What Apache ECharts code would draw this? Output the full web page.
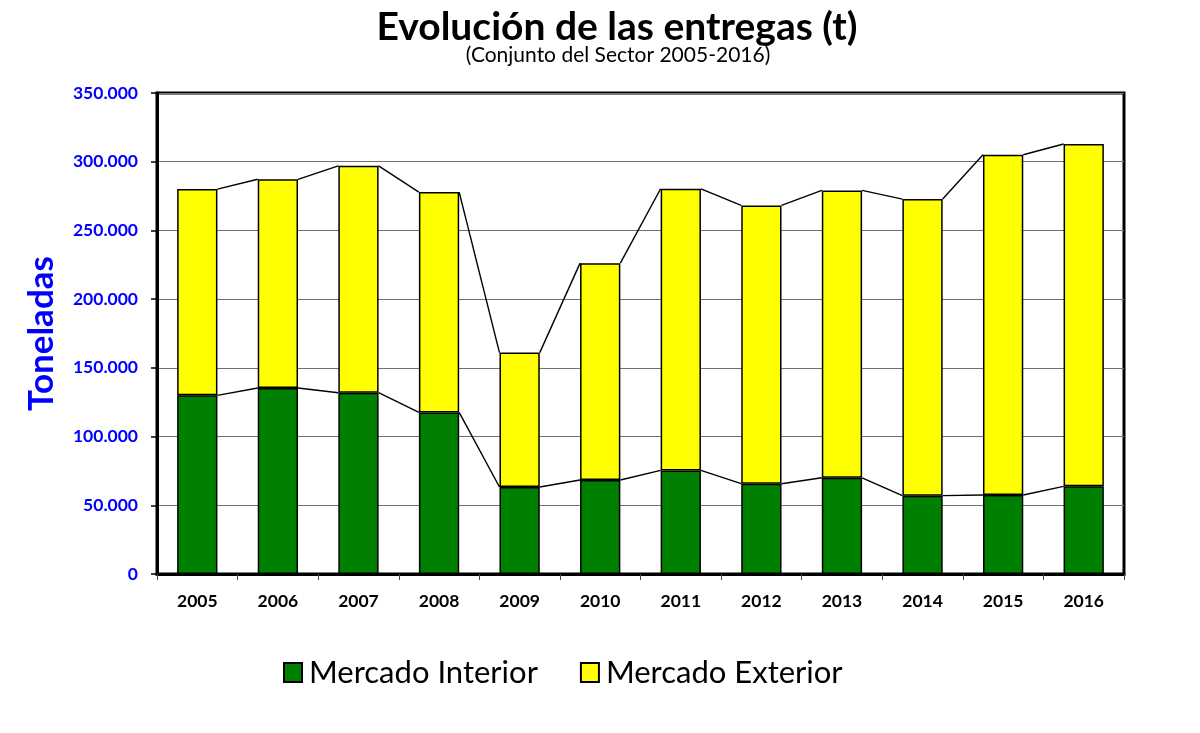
<!DOCTYPE html>
<html>
<head>
<meta charset="utf-8">
<script src="https://cdn.jsdelivr.net/npm/echarts@6/dist/echarts.min.js"></script>
<style>
html,body{margin:0;padding:0;background:#fff;}
#chart{width:1200px;height:733px;}
</style>
</head>
<body>
<div id="chart"></div>
<script>
var years = ['2005','2006','2007','2008','2009','2010','2011','2012','2013','2014','2015','2016'];
var mercadoInterior = [130000,135300,131900,117600,63300,68400,75400,65700,70000,57000,57500,63800];
var mercadoExterior = [150100,151900,165100,160300,97800,157800,204900,202500,209100,215800,247600,249100];
var yTicks = {min:0, max:350000, interval:50000};

var totals = mercadoInterior.map(function(v,i){return v + mercadoExterior[i];});
function segs(arr){
  var out = [];
  for (var i = 0; i < arr.length - 1; i++) out.push([i, arr[i], arr[i+1]]);
  return out;
}
function fmt(v){
  return String(v).replace(/\B(?=(\d{3})+(?!\d))/g, '.');
}
function seriesLine(params, api){
  var i = api.value(0);
  var p1 = api.coord([i, api.value(1)]);
  var p2 = api.coord([i + 1, api.value(2)]);
  var half = api.size([1, 0])[0] * 0.25;
  return {
    type: 'line',
    shape: {x1: p1[0] + half, y1: p1[1], x2: p2[0] - half, y2: p2[1]},
    style: {stroke: '#000', lineWidth: 1.4}
  };
}

var chart = echarts.init(document.getElementById('chart'));
chart.setOption({
  animation: false,
  backgroundColor: '#fff',
  textStyle: {fontFamily: 'Lato'},
  title: [
    {text: 'Evolución de las entregas (t)', left: 612, top: 3, textAlign: 'center',
     textStyle: {fontFamily: 'Lato', fontWeight: 'bold', fontSize: 39, color: '#000'}},
    {text: '(Conjunto del Sector 2005-2016)', left: 613, top: 40, textAlign: 'center',
     textStyle: {fontFamily: 'Lato', fontWeight: 'normal', fontSize: 21, color: '#000'}}
  ],
  legend: {
    left: 278, top: 652,
    itemWidth: 18, itemHeight: 19, itemGap: 42,
    icon: 'rect',
    textStyle: {fontFamily: 'Lato', fontSize: 31, color: '#000', padding: [0, 0, 0, 2]},
    data: ['Mercado Interior', 'Mercado Exterior']
  },
  grid: {left: 157, right: 76, top: 93, bottom: 159, show: true, borderColor: '#000', borderWidth: 3, containLabel: false},
  xAxis: {
    type: 'category',
    data: years,
    axisLine: {show: true, lineStyle: {color: '#000', width: 3}},
    axisTick: {show: true, length: 6, lineStyle: {color: '#444', width: 1}},
    axisLabel: {margin: 18, fontFamily: 'Lato', fontWeight: 'bold', fontSize: 17.5, color: '#000'}
  },
  yAxis: {
    type: 'value',
    min: yTicks.min, max: yTicks.max, interval: yTicks.interval,
    name: 'Toneladas',
    nameLocation: 'middle',
    nameGap: 98,
    nameTextStyle: {fontFamily: 'Lato', fontWeight: 'bold', fontSize: 35, color: '#0000FF'},
    axisLine: {show: true, lineStyle: {color: '#000', width: 3}},
    axisTick: {show: true, length: 6, lineStyle: {color: '#000', width: 1.5}},
    axisLabel: {margin: 19, formatter: fmt, fontFamily: 'Lato', fontWeight: 'bold', fontSize: 17.5, color: '#0000FF'},
    splitLine: {show: true, lineStyle: {color: '#707070', width: 1.2}}
  },
  series: [
    {name: 'Mercado Interior', type: 'bar', stack: 'total', barWidth: '50%', data: mercadoInterior,
     itemStyle: {color: '#008000', borderColor: '#000', borderWidth: 1.5}},
    {name: 'Mercado Exterior', type: 'bar', stack: 'total', barWidth: '50%', data: mercadoExterior,
     itemStyle: {color: '#FFFF00', borderColor: '#000', borderWidth: 1.5}},
    {type: 'custom', renderItem: seriesLine, data: segs(mercadoInterior), z: 5, silent: true},
    {type: 'custom', renderItem: seriesLine, data: segs(totals), z: 5, silent: true}
  ]
});
</script>
</body>
</html>
